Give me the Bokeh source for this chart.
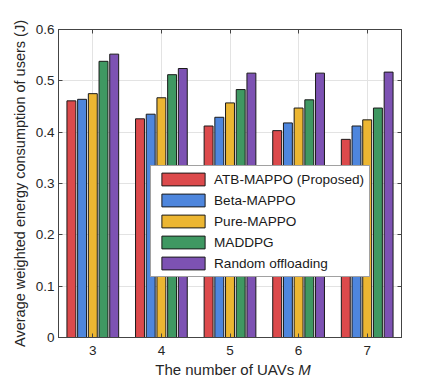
from bokeh.plotting import figure
from bokeh.layouts import column
from bokeh.models import ColumnDataSource, Range1d, LinearAxis, FixedTicker, Legend, LegendItem
from bokeh.core.properties import value
from bokeh.transform import dodge
from bokeh.embed import file_html
from bokeh.resources import INLINE

M = [3, 4, 5, 6, 7]
atb = [0.461, 0.426, 0.412, 0.403, 0.386]
beta = [0.464, 0.435, 0.429, 0.418, 0.412]
pure = [0.475, 0.467, 0.457, 0.447, 0.424]
maddpg = [0.538, 0.512, 0.483, 0.463, 0.447]
rand_off = [0.552, 0.524, 0.515, 0.515, 0.517]

names = ["ATB-MAPPO (Proposed)", "Beta-MAPPO", "Pure-MAPPO", "MADDPG", "Random offloading"]
keys = ["atb", "beta", "pure", "maddpg", "rand"]
colors = ["#DC4A4C", "#4E86DD", "#ECB632", "#3F9862", "#7D52B3"]
y_ticks = [0, 0.1, 0.2, 0.3, 0.4, 0.5, 0.6]
x_title = "The number of UAVs"
x_title_var = "M"

src = ColumnDataSource(dict(M=M, atb=atb, beta=beta, pure=pure, maddpg=maddpg, rand=rand_off))

FONT = "Liberation Sans"
AXC = "#444444"
W = 440
p = figure(width=W, height=360, output_backend="svg", toolbar_location=None,
           x_range=Range1d(2.5, 7.5), y_range=Range1d(0, 0.6),
           min_border_left=58, min_border_right=39, min_border_top=29, min_border_bottom=23)
p.background_fill_color = "white"
p.border_fill_color = "white"
p.outline_line_color = AXC
p.outline_line_width = 1

offsets = [-0.312, -0.156, 0.0, 0.156, 0.312]
items = []
for k, n, c, o in zip(keys, names, colors, offsets):
    r = p.vbar(x=dodge("M", o, range=p.x_range), top=k, width=0.13, source=src,
               fill_color=c, line_color="#1a1a1a", line_width=1)
    items.append(LegendItem(label=n, renderers=[r]))

for ax in [p.xaxis[0], p.yaxis[0]]:
    ax.axis_line_color = AXC
    ax.major_tick_line_color = AXC
    ax.major_tick_in = 4
    ax.major_tick_out = 0
    ax.minor_tick_line_color = None
    ax.major_label_text_font = FONT
    ax.major_label_text_font_size = "13.5px"
    ax.major_label_text_color = "#262626"

p.xaxis[0].ticker = FixedTicker(ticks=M)
p.xaxis[0].major_label_standoff = 8
p.yaxis[0].ticker = FixedTicker(ticks=y_ticks)
p.yaxis[0].major_label_overrides = {0: "0"}
p.yaxis[0].major_label_standoff = 4
p.yaxis[0].axis_label = "Average weighted energy consumption of users (J)"
p.yaxis[0].axis_label_text_font = FONT
p.yaxis[0].axis_label_text_font_size = "14.5px"
p.yaxis[0].axis_label_text_font_style = "normal"
p.yaxis[0].axis_label_text_color = "#262626"
p.yaxis[0].axis_label_standoff = 5

top_ax = LinearAxis(ticker=FixedTicker(ticks=M), major_label_text_color=None,
                    axis_line_color=AXC, major_tick_line_color=AXC,
                    major_tick_in=4, major_tick_out=0, minor_tick_line_color=None,
                    major_label_standoff=0)
right_ax = LinearAxis(ticker=FixedTicker(ticks=y_ticks), major_label_text_color=None,
                      axis_line_color=AXC, major_tick_line_color=AXC,
                      major_tick_in=4, major_tick_out=0, minor_tick_line_color=None,
                      major_label_standoff=0)
p.add_layout(top_ax, "above")
p.add_layout(right_ax, "right")

p.xgrid.ticker = FixedTicker(ticks=M)
p.ygrid.ticker = FixedTicker(ticks=y_ticks)
p.xgrid.grid_line_color = "#e3e3e3"
p.ygrid.grid_line_color = "#e3e3e3"

legend = Legend(items=items, location=(92, 60))
legend.label_text_font = FONT
legend.label_text_font_size = "13.6px"
legend.label_text_color = "#1a1a1a"
legend.glyph_width = 54
legend.glyph_height = 16
legend.label_height = 16
legend.spacing = 5
legend.label_standoff = 4
legend.padding = 5
legend.margin = 0
legend.border_line_color = AXC
legend.background_fill_alpha = 1
p.add_layout(legend, "center")

# x-axis title strip (normal text + italic variable)
q = figure(width=W, height=18, output_backend="svg", toolbar_location=None,
           x_range=p.x_range, y_range=Range1d(0, 1),
           min_border_left=58, min_border_right=39, min_border_top=0, min_border_bottom=0)
q.axis.visible = False
q.grid.visible = False
q.outline_line_color = None
q.background_fill_color = "white"
q.border_fill_color = "white"
q.text(x=[5.936], y=[0.5], text=[x_title], text_align="right", text_baseline="middle",
       text_font=value(FONT), text_font_size="15px", text_color="#262626")
q.text(x=[5.994], y=[0.5], text=[x_title_var], text_align="left", text_baseline="middle",
       text_font=value(FONT), text_font_size="15px", text_font_style="italic",
       text_color="#262626")

layout = column(p, q, spacing=0)
open("out.html", "w").write(file_html(layout, INLINE))
